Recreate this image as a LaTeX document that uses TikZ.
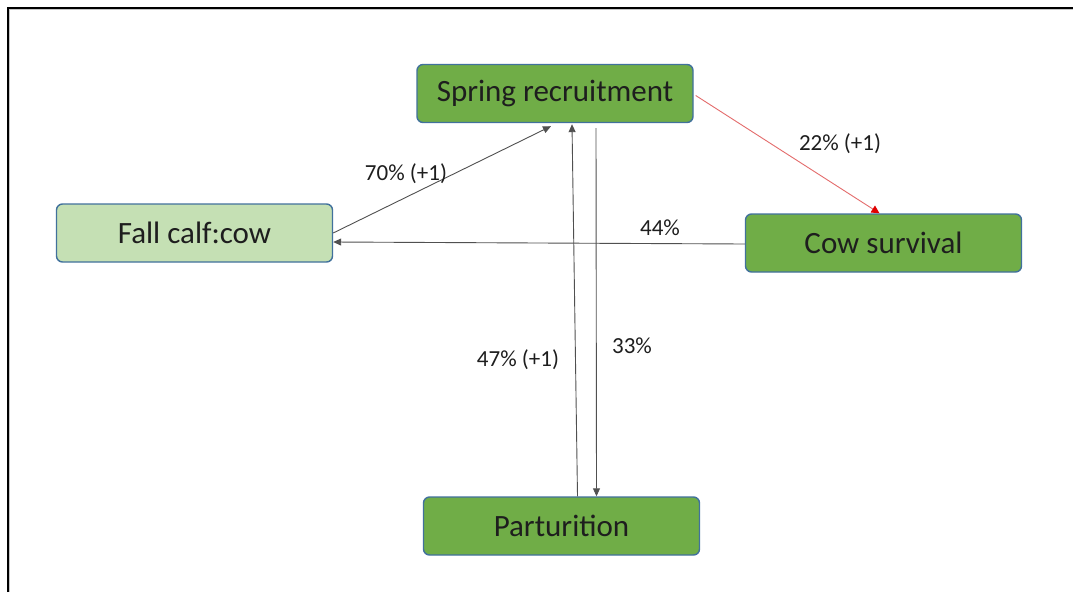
\documentclass[tikz,border=0pt]{standalone}
\usepackage{fontspec}
\setmainfont{Carlito}
\usetikzlibrary{arrows.meta,calc}
\definecolor{boxgreen}{HTML}{70AD47}
\definecolor{boxlight}{HTML}{C5E0B4}
\definecolor{boxedge}{HTML}{41719C}
\definecolor{linkgray}{HTML}{505050}
\definecolor{linkred}{HTML}{E46C6C}
\definecolor{tipred}{HTML}{E00000}
\definecolor{ink}{HTML}{1E1E1E}
\tikzset{
  stage/.style={draw=boxedge, line width=1.4pt, rounded corners=6pt,
    fill=boxgreen, minimum width=276pt, minimum height=58pt,
    text=ink, font=\fontsize{31}{36}\selectfont, inner sep=0pt},
  link/.style={draw=linkgray, line width=0.9pt,
    -{Triangle[length=8pt,width=7pt]}},
  redlink/.style={draw=linkred, line width=0.9pt,
    -{Triangle[length=8pt,width=8pt,color=tipred]}},
  pct/.style={text=ink, font=\fontsize{23}{27}\selectfont, inner sep=1pt}
}
\begin{document}
\begin{tikzpicture}[x=1pt,y=-1pt]
  \useasboundingbox (0,0) rectangle (1073,592);
  \fill[white] (0,0) rectangle (1073,592);
  % frame with inner shadow
  \draw[gray!45, line width=1.5pt] (9.5,592) -- (9.5,9.5) -- (1073,9.5);
  \draw[black, line width=2pt] (7.5,592) -- (7.5,7.5) -- (1073,7.5);

  % stages
  \node[stage] (spring) at (555,93.5) {Spring recruitment};
  \node[stage, fill=boxlight] (fall) at (194.5,233) {Fall calf:cow};
  \node[stage] (cow) at (883.5,243) {Cow survival};
  \node[stage] (part) at (561.5,526) {Parturition};

  % transitions
  \draw[link] (fall.east) -- ($(spring.south)+(-4,3)$);
  \node[pct] (l70) at (406,174) {70\% (+1)};
  \draw[redlink] ($(spring.east)+(2,2)$) -- ($(cow.north)+(-4,0)$);
  \node[pct] (l22) at (840,144) {22\% (+1)};
  \draw[link] ($(cow.west)+(0,1)$) -- ($(fall.east)+(0,9)$);
  \node[pct] (l44) at (660,228) {44\%};
  \draw[link] ($(part.north)+(16,0)$) -- ($(spring.south)+(17,1)$);
  \node[pct] (l47) at (518,360) {47\% (+1)};
  \draw[link] ($(spring.south)+(41,5)$) -- ($(part.north)+(35,0)$);
  \node[pct] (l33) at (632,346) {33\%};
\end{tikzpicture}
\end{document}
